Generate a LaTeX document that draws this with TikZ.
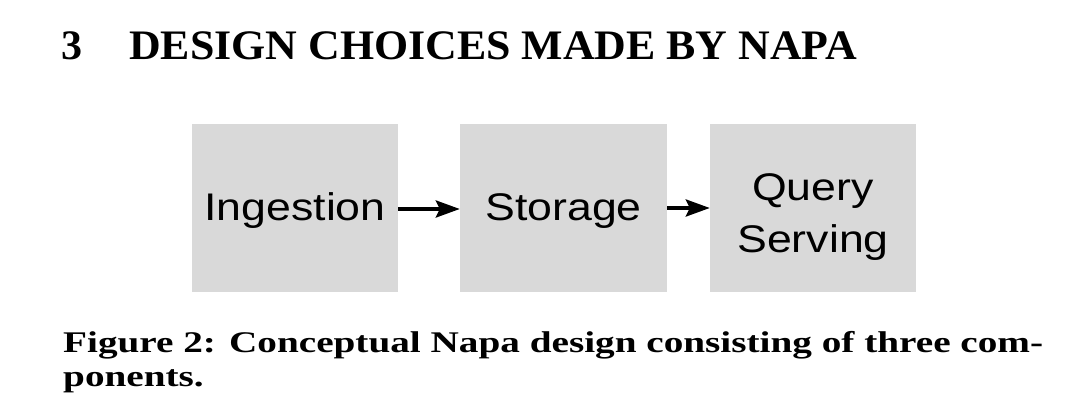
\documentclass[tikz,border=0pt]{standalone}
\usepackage{fontspec}
\setmainfont{Liberation Serif}
\newfontfamily\boxfont{Liberation Sans}
\usetikzlibrary{arrows.meta}
\definecolor{boxgray}{HTML}{D9D9D9}
\newlength\capw
\begin{document}
\settowidth{\capw}{\bfseries\fontsize{30}{34}\selectfont Figure 2: Conceptual Napa design consisting of three com-}%
\begin{tikzpicture}[x=1pt,y=1pt,
  compbox/.style={fill=boxgray, draw=none, inner sep=0pt, minimum height=168pt,
    font=\boxfont\fontsize{38.5}{52}\selectfont, text=black},
  flowarrow/.style={line width=4pt, -{Stealth[length=24pt,width=17pt,inset=4pt]}},
  titletext/.style={anchor=base west, inner sep=0pt, font=\bfseries\fontsize{42}{50}\selectfont},
  captext/.style={anchor=base west, inner sep=0pt, font=\bfseries\fontsize{30}{34}\selectfont}]
\useasboundingbox (0,0) rectangle (1078,418);
% title
\node[titletext] (secnum) at (61,358) {3};
\node[titletext] (sectitle) at (129,358) {\resizebox{728pt}{\height}{DESIGN CHOICES MADE BY NAPA}};
% boxes
\node[compbox, minimum width=206pt, text height=27.4pt, text depth=2pt] (ing) at (295,210) {\scalebox{1.16}[1]{Ingestion}};
\node[compbox, minimum width=207pt, text height=27.4pt, text depth=2pt] (sto) at (563.5,210) {\scalebox{1.16}[1]{Storage}};
\node[compbox, minimum width=206pt, text height=0pt, text depth=14pt] (qs) at (813,210)
  {\scalebox{1.16}[1]{\begin{tabular}[t]{@{}c@{}}Query\\Serving\end{tabular}}};
% connectors
\draw[flowarrow] ([yshift=-1pt]ing.east) -- ([yshift=-1pt]sto.west);
\draw[flowarrow] (sto.east) -- (qs.west);
% caption
\pgfmathsetmacro\capsc{980/\capw}
\node[captext] (cap1) at (63,66) {\scalebox{\capsc}[1]{Figure 2: Conceptual Napa design consisting of three com-}};
\node[captext] (cap2) at (63,32) {\scalebox{\capsc}[1]{ponents.}};
\end{tikzpicture}
\end{document}
